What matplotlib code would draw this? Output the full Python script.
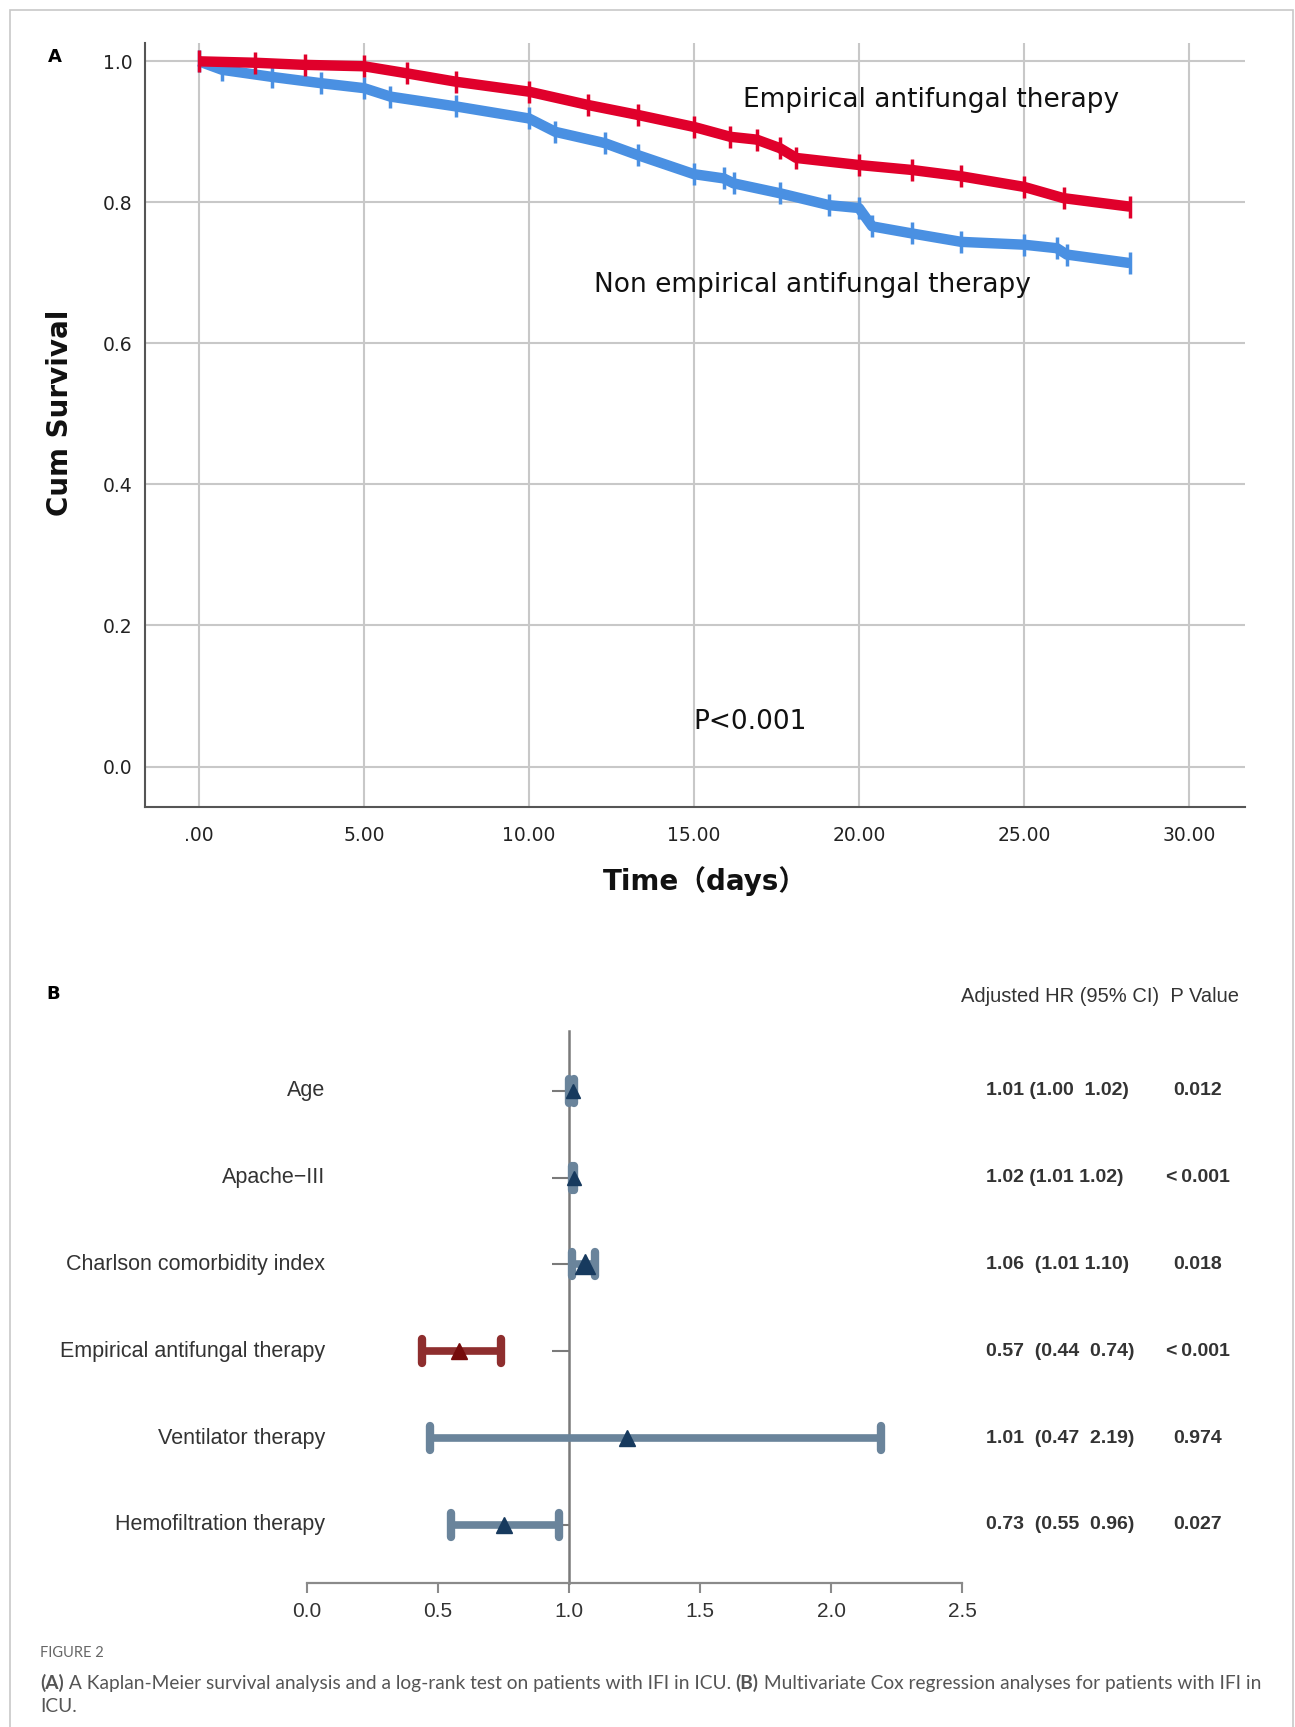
import numpy as np
import matplotlib
matplotlib.use("Agg")
import matplotlib.pyplot as plt
from matplotlib.markers import MarkerStyle
from matplotlib.patches import Rectangle

W, H = 1295, 1727

# ---- panel A: Kaplan-Meier curves ----
t_emp = [0.0, 1.7, 3.2, 5.0, 6.3, 7.8, 10.0, 11.8, 13.3, 15.0, 16.1, 16.9, 17.6,
         18.1, 20.0, 21.6, 23.1, 25.0, 26.2, 28.2]
s_emp = [1.000, 0.998, 0.995, 0.993, 0.983, 0.971, 0.957, 0.938, 0.924, 0.907,
         0.893, 0.889, 0.877, 0.863, 0.853, 0.846, 0.837, 0.822, 0.806, 0.794]

t_non = [0.0, 0.7, 2.2, 3.7, 5.0, 5.8, 7.8, 10.0, 10.8, 12.3, 13.3, 15.0, 15.9,
         16.2, 17.6, 19.1, 20.0, 20.4, 21.6, 23.1, 25.0, 26.0, 26.3, 28.2]
s_non = [1.000, 0.988, 0.978, 0.969, 0.962, 0.950, 0.936, 0.919, 0.900, 0.884,
         0.867, 0.840, 0.834, 0.827, 0.813, 0.796, 0.792, 0.766, 0.756, 0.744,
         0.740, 0.735, 0.726, 0.714]

x_ticks = [0, 5, 10, 15, 20, 25, 30]
x_ticklabels = [".00", "5.00", "10.00", "15.00", "20.00", "25.00", "30.00"]
y_ticks = [0.0, 0.2, 0.4, 0.6, 0.8, 1.0]
y_ticklabels = ["0.0", "0.2", "0.4", "0.6", "0.8", "1.0"]

# ---- panel B: Cox regression ----
variables = ["Age", "Apache\u2212III", "Charlson comorbidity index",
             "Empirical antifungal therapy", "Ventilator therapy",
             "Hemofiltration therapy"]
hr_point = [1.015, 1.02, 1.06, 0.58, 1.22, 0.75]   # marker positions as drawn
ci_low = [1.00, 1.01, 1.01, 0.44, 0.47, 0.55]
ci_high = [1.02, 1.02, 1.10, 0.74, 2.19, 0.96]
hr_text = ["1.01 (1.00  1.02)", "1.02 (1.01 1.02)", "1.06  (1.01 1.10)",
           "0.57  (0.44  0.74)", "1.01  (0.47  2.19)", "0.73  (0.55  0.96)"]
p_text = ["0.012", "<\u20090.001", "0.018", "<\u20090.001", "0.974", "0.027"]
b_ticks = [0.0, 0.5, 1.0, 1.5, 2.0, 2.5]


def fx(px):
    return px / W


def fy(py):
    return 1 - py / H


fig = plt.figure(figsize=(W / 100, H / 100), dpi=100)
fig.patch.set_facecolor("white")

# light frame around the whole figure
fig.patches.append(Rectangle((fx(10), -0.01), fx(1283), 1.01 - 10 / H,
                             transform=fig.transFigure, fill=False,
                             edgecolor="#c8c8c8", lw=1.2))

# ================= Panel A =================
axA = fig.add_axes([fx(145), fy(807), (1245 - 145) / W, (807 - 43) / H])
axA.set_xlim(-1.636, 31.7)
axA.set_ylim(-0.0574, 1.026)
axA.grid(True, color="#c8c8c8", lw=1.5)
axA.set_axisbelow(True)
for s in ["top", "right"]:
    axA.spines[s].set_visible(False)
for s in ["left", "bottom"]:
    axA.spines[s].set_color("#555555")
    axA.spines[s].set_linewidth(1.5)
axA.set_xticks(x_ticks)
axA.set_xticklabels(x_ticklabels)
axA.set_yticks(y_ticks)
axA.set_yticklabels(y_ticklabels)
axA.tick_params(axis="both", length=0, labelsize=13.5, colors="#222222")
axA.tick_params(axis="x", pad=14)
axA.tick_params(axis="y", pad=9)

red = "#e0002b"
blue = "#4a90e2"
axA.plot(t_emp, s_emp, color=red, lw=7.5, solid_capstyle="butt", zorder=3,
         marker="|", ms=16, mew=2.5)
axA.plot(t_non, s_non, color=blue, lw=7.5, solid_capstyle="butt", zorder=2,
         marker="|", ms=16, mew=2.5)

axA.text(22.2, 0.945, "Empirical antifungal therapy", ha="center", va="center",
         fontsize=19, color="#111111")
axA.text(18.6, 0.683, "Non empirical antifungal therapy", ha="center",
         va="center", fontsize=19, color="#111111")
axA.text(16.7, 0.063, "P<0.001", ha="center", va="center", fontsize=19,
         color="#111111")

fig.text(fx(60), fy(413), "Cum Survival", rotation=90, ha="center",
         va="center", fontsize=20, fontweight="bold", color="#111111")
fig.text(fx(705), fy(881), "Time\uff08days\uff09", ha="center", va="center",
         fontsize=20, fontweight="bold", color="#111111",
         family=["DejaVu Sans", "Noto Sans CJK SC"])
fig.text(fx(55), fy(57), "A", ha="center", va="center", fontsize=13,
         fontweight="bold")
fig.text(fx(53), fy(994), "B", ha="center", va="center", fontsize=13,
         fontweight="bold")

# ================= Panel B =================
axB = fig.add_axes([fx(307), fy(1583), (962 - 307) / W, (1583 - 1031) / H])
rows = np.arange(len(variables), 0, -1)
axB.set_xlim(0, 2.5)
axB.set_ylim(0.33, 6.69)
for s in ["top", "right"]:
    axB.spines[s].set_visible(False)
axB.spines["left"].set_position(("data", 1.0))
axB.spines["left"].set_color("#7a7a7a")
axB.spines["left"].set_linewidth(1.8)
axB.spines["bottom"].set_color("#8a8a8a")
axB.spines["bottom"].set_linewidth(1.6)
axB.set_yticks(rows)
axB.set_yticklabels([])
axB.tick_params(axis="y", length=12, width=1.5, color="#7a7a7a")
axB.set_xticks(b_ticks)
axB.set_xticklabels([f"{v:.1f}" for v in b_ticks])
axB.tick_params(axis="x", length=7, width=1.5, color="#8a8a8a",
                labelsize=15, labelcolor="#333333", pad=7)
for lab in axB.get_xticklabels():
    lab.set_family("Liberation Sans")

cap = MarkerStyle("|", capstyle="round")
tri_size = [10.5, 10.5, 15, 12, 12, 12]
for i, y in enumerate(rows):
    if i == 3:
        lc, tc = "#8e2e2e", "#760c0c"
    else:
        lc, tc = "#6a849b", "#173a5e"
    axB.plot([ci_low[i], ci_high[i]], [y, y], color=lc, lw=5.5,
             solid_capstyle="butt", zorder=3)
    axB.plot([ci_low[i], ci_high[i]], [y, y], ls="none", marker=cap, ms=17,
             mew=6, color=lc, zorder=3)
    axB.plot(hr_point[i], y, marker="^", ms=tri_size[i], color=tc, zorder=4,
             ls="none")
    axB.text(0.069, y, variables[i], ha="right", va="center", fontsize=15.5,
             color="#333333", family="Liberation Sans")
    axB.text(2.59, y, hr_text[i], ha="left", va="center", fontsize=14,
             fontweight="bold", color="#333333", family="Liberation Sans")
    axB.text(3.40, y, p_text[i], ha="center", va="center", fontsize=14,
             fontweight="bold", color="#333333", family="Liberation Sans")

axB.text(2.496, 7.09, "Adjusted HR (95% CI)  P Value", ha="left",
         va="center", fontsize=14.5, color="#333333", family="Liberation Sans")

# ================= caption =================
cap_font = dict(family="Lato", fontsize=13.8, color="#555555")
fig.text(fx(40), fy(1653), "FIGURE 2", ha="left", va="center",
         family="Lato", fontsize=10.5, color="#666666")
t1 = fig.text(fx(40), fy(1683), "(A)", ha="left", va="center",
              fontweight="bold", **cap_font)
t2 = axB.annotate(" A Kaplan-Meier survival analysis and a log-rank test on "
                  "patients with IFI in ICU. ", xy=(1, 0.5),
                  xycoords=t1, ha="left", va="center", **cap_font)
t3 = axB.annotate("(B)", xy=(1, 0.5), xycoords=t2, ha="left", va="center",
                  fontweight="bold", **cap_font)
axB.annotate(" Multivariate Cox regression analyses for patients with IFI in",
             xy=(1, 0.5), xycoords=t3, ha="left", va="center", **cap_font)
fig.text(fx(40), fy(1707), "ICU.", ha="left", va="center", **cap_font)

fig.savefig("out.png", dpi=100, facecolor="white")
